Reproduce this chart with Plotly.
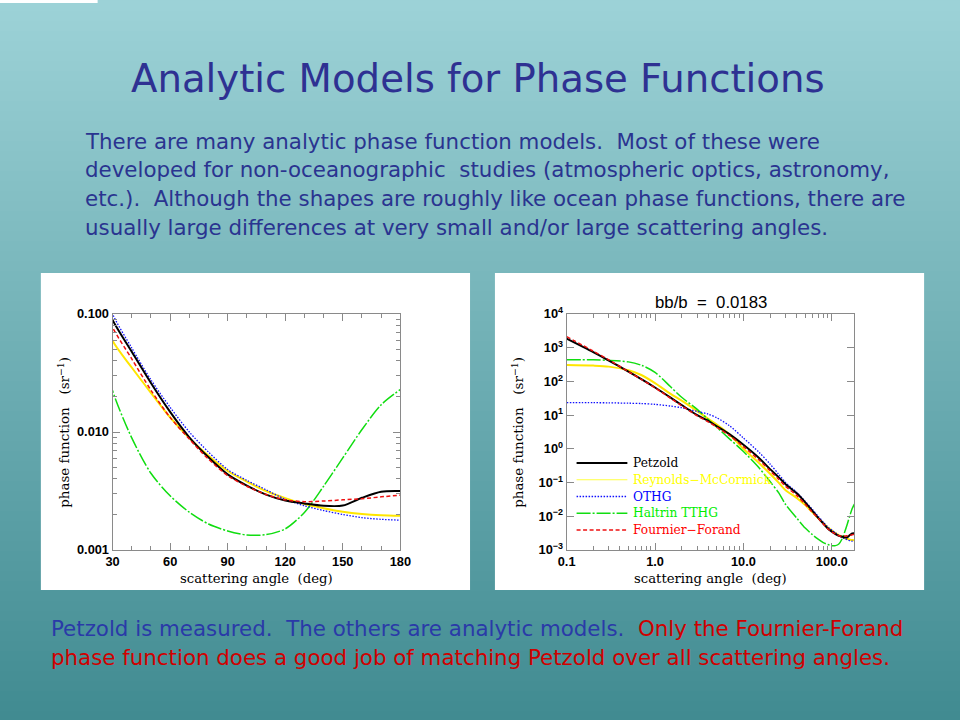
import math
import plotly.graph_objects as go

# ---------------- data ----------------
ANGLES = [0.1, 0.2, 0.3, 0.5, 0.7, 1.0, 1.5, 2.0, 3.0, 4.0, 5.0, 7.0, 10, 15, 20, 25,
          30, 40, 50, 60, 70, 80, 90, 100, 110, 120, 130, 140, 150, 160, 170, 180]

PETZOLD = [1862, 741, 417, 195, 117, 66.1, 33.1, 20.0, 10.0, 6.76, 4.68, 2.69, 1.32,
           0.537, 0.251, 0.145, 0.0891, 0.0479, 0.0260, 0.0148, 0.00902, 0.00610,
           0.00437, 0.00351, 0.00295, 0.00263, 0.00248, 0.00237, 0.00238, 0.00277,
           0.00312, 0.00316]

REYNOLDS_MCCORMICK = [309, 295, 275, 214, 155, 89.1, 42.7, 26.9, 13.2, 7.76, 5.25, 2.63,
                      1.0, 0.380, 0.182, 0.100, 0.0594, 0.0352, 0.0215, 0.0133, 0.00887,
                      0.00628, 0.00467, 0.00380, 0.00316, 0.00275, 0.00245, 0.00226,
                      0.00211, 0.00202, 0.00197, 0.00195]

OTHG = [23.4, 23.4, 23.2, 22.6, 22.1, 20.9, 18.6, 16.6, 12.9, 10.7, 8.32, 4.79, 2.09,
        0.794, 0.355, 0.178, 0.100, 0.0515, 0.0277, 0.0162, 0.0100, 0.00676, 0.00481,
        0.00389, 0.00324, 0.00269, 0.00237, 0.00216, 0.00200, 0.00188, 0.00182, 0.00179]

HALTRIN_TTHG = [442, 437, 422, 380, 302, 186, 69.2, 33.9, 14.8, 7.41, 4.37, 1.95, 0.832,
                0.275, 0.107, 0.0501, 0.0224, 0.00891, 0.00447, 0.00288, 0.00209,
                0.00166, 0.00145, 0.00134, 0.00135, 0.00151, 0.00208, 0.00347, 0.00603,
                0.0105, 0.0170, 0.0229]

FOURNIER_FORAND = [2138, 794, 437, 195, 115, 64.6, 31.6, 19.1, 9.55, 6.31, 4.37, 2.45,
                   1.17, 0.468, 0.224, 0.126, 0.0771, 0.0417, 0.0226, 0.0133, 0.00871,
                   0.00589, 0.00427, 0.00347, 0.00295, 0.00266, 0.00257, 0.00260,
                   0.00266, 0.00272, 0.00282, 0.00292]

LEGEND_ORDER = ["Petzold", "Reynolds\u2212McCormick", "OTHG", "Haltrin TTHG",
                "Fournier\u2212Forand"]

LEFT_XTICKS = [30, 60, 90, 120, 150, 180]
LEFT_YTICKS = [0.001, 0.01, 0.1]
LEFT_YTICKTEXT = ["0.001", "0.010", "0.100"]
RIGHT_XTICKS = [0.1, 1, 10, 100]
RIGHT_XTICKTEXT = ["0.1", "1.0", "10.0", "100.0"]
RIGHT_YEXP = [-3, -2, -1, 0, 1, 2, 3, 4]

TITLE = "Analytic Models for Phase Functions"
PARAGRAPH = [
    "There are many analytic phase function models.\u00a0 Most of these were",
    "developed for non-oceanographic\u00a0 studies (atmospheric optics, astronomy,",
    "etc.).\u00a0 Although the shapes are roughly like ocean phase functions, there are",
    "usually large differences at very small and/or large scattering angles.",
]
BOTTOM_BLUE = "Petzold is measured.\u00a0 The others are analytic models.\u00a0 "
BOTTOM_RED_1 = "Only the Fournier-Forand"
BOTTOM_RED_2 = "phase function does a good job of matching Petzold over all scattering angles."
CHART_TITLE = "bb/b\u00a0 =\u00a0 0.0183"

# ---------------- styles / page geometry ----------------
W, H = 960, 720
# the viewer places the figure's paper inside an 8 px frame; positions below are
# given in final-picture pixels and converted to paper fractions
FRAME = 8
SX = (W - 2 * FRAME)
SY = (H - 2 * FRAME)
FS = 1.017  # font compensation for the frame scaling

STYLE = {
    "Petzold": dict(color="#000000", width=2.0, dash="solid"),
    "Reynolds\u2212McCormick": dict(color="#ffe600", width=2.0, dash="solid"),
    "OTHG": dict(color="#1010ff", width=1.3, dash="1.5px,1.5px"),
    "Haltrin TTHG": dict(color="#10dd10", width=1.5, dash="14px,2px,2px,2px"),
    "Fournier\u2212Forand": dict(color="#ee1010", width=1.5, dash="4px,2.5px"),
}
LEGEND_TEXT_COLOR = {
    "Petzold": "#000000",
    "Reynolds\u2212McCormick": "#ffff00",
    "OTHG": "#0000ff",
    "Haltrin TTHG": "#00ee00",
    "Fournier\u2212Forand": "#ff0000",
}
SERIES = {
    "Petzold": PETZOLD,
    "Reynolds\u2212McCormick": REYNOLDS_MCCORMICK,
    "OTHG": OTHG,
    "Haltrin TTHG": HALTRIN_TTHG,
    "Fournier\u2212Forand": FOURNIER_FORAND,
}
DRAW_ORDER = ["Reynolds\u2212McCormick", "Haltrin TTHG", "OTHG", "Petzold",
              "Fournier\u2212Forand"]


def px_x(x):
    return (x - FRAME) / SX


def px_y(y):
    return 1 - (y - FRAME) / SY


def fs(v):
    return round(v * FS, 2)


fig = go.Figure()
for xa, ya in (("x", "y"), ("x2", "y2")):
    for name in DRAW_ORDER:
        s = STYLE[name]
        fig.add_trace(go.Scatter(
            x=ANGLES, y=SERIES[name], xaxis=xa, yaxis=ya, mode="lines",
            line=dict(color=s["color"], width=s["width"], dash=s["dash"],
                      shape="spline", smoothing=0.8),
            showlegend=False, hoverinfo="skip", name=name))

# ---------------- shapes ----------------
shapes = []
top_c = (157, 210, 215)
bot_c = (64, 139, 145)
nb = 72
for i in range(nb):
    t = (i + 0.5) / nb
    c = tuple(round(top_c[k] + (bot_c[k] - top_c[k]) * t) for k in range(3))
    y_top = px_y(i * H / nb) if i > 0 else 1.05
    y_bot = px_y((i + 1) * H / nb) - 0.001 if i < nb - 1 else -0.05
    shapes.append(dict(type="rect", xref="paper", yref="paper", x0=-0.05, x1=1.05,
                       y0=y_bot, y1=y_top,
                       fillcolor="rgb(%d,%d,%d)" % c, line=dict(width=0), layer="below"))
shapes.append(dict(type="rect", xref="paper", yref="paper", x0=-0.05, x1=px_x(97),
                   y0=px_y(2), y1=1.05, fillcolor="white", line=dict(width=0), layer="below"))
for x0 in (40, 496):
    shapes.append(dict(type="rect", xref="paper", yref="paper", x0=px_x(x0),
                       x1=px_x(x0 + 431), y0=px_y(589), y1=px_y(272),
                       fillcolor="white", line=dict(width=0), layer="below"))

# legend samples
annotations = []
for i, name in enumerate(LEGEND_ORDER):
    yy = 462 + 16.75 * i
    s = STYLE[name]
    lw = s["width"] if name != "Reynolds\u2212McCormick" else 1.2
    col = s["color"] if name != "Reynolds\u2212McCormick" else "#ffff40"
    shapes.append(dict(type="line", xref="paper", yref="paper", x0=px_x(578),
                       x1=px_x(629), y0=px_y(yy), y1=px_y(yy),
                       line=dict(color=col, width=lw, dash=s["dash"]), layer="above"))
    annotations.append(dict(xref="paper", yref="paper", x=px_x(633), y=px_y(yy),
                            xanchor="left", yanchor="middle", showarrow=False,
                            text=name,
                            font=dict(family="DejaVu Serif", size=fs(12),
                                      color=LEGEND_TEXT_COLOR[name])))

# ---------------- text ----------------
annotations.append(dict(xref="paper", yref="paper", x=px_x(479), y=px_y(78),
                        xanchor="center", yanchor="middle", showarrow=False, text=TITLE,
                        font=dict(family="DejaVu Sans", size=fs(38), color="#2e3192")))
for i, line in enumerate(PARAGRAPH):
    annotations.append(dict(xref="paper", yref="paper", x=px_x(82), y=px_y(140 + 28.7 * i),
                            xanchor="left", yanchor="middle", showarrow=False, text=line,
                            font=dict(family="DejaVu Sans", size=fs(21), color="#2a3490")))
annotations.append(dict(xref="paper", yref="paper", x=px_x(48), y=px_y(627),
                        xanchor="left", yanchor="middle", showarrow=False,
                        text=BOTTOM_BLUE + '<span style="color:#d00000">' + BOTTOM_RED_1 + "</span>",
                        font=dict(family="DejaVu Sans", size=fs(21), color="#2a3aa8")))
annotations.append(dict(xref="paper", yref="paper", x=px_x(48), y=px_y(656),
                        xanchor="left", yanchor="middle", showarrow=False, text=BOTTOM_RED_2,
                        font=dict(family="DejaVu Sans", size=fs(21), color="#d00000")))

xtitle_font = dict(family="DejaVu Serif", size=fs(13), color="black")
ytitle_font = dict(family="DejaVu Serif", size=fs(13.2), color="black")
for cx, ytx in ((256.5, 63), (712.5, 519)):
    annotations.append(dict(xref="paper", yref="paper", x=px_x(cx), y=px_y(577),
                            xanchor="center", yanchor="middle", showarrow=False,
                            text="scattering angle\u00a0 (deg)", font=xtitle_font))
    annotations.append(dict(xref="paper", yref="paper", x=px_x(ytx), y=px_y(431),
                            xanchor="center", yanchor="middle", showarrow=False,
                            textangle=-90,
                            text="phase function\u00a0\u00a0 (sr<sup>\u22121</sup>)",
                            font=ytitle_font))
annotations.append(dict(xref="paper", yref="paper", x=px_x(712.5), y=px_y(301),
                        xanchor="center", yanchor="middle", showarrow=False,
                        text=CHART_TITLE,
                        font=dict(family="Liberation Sans", size=fs(16.5), color="black")))

# ---------------- axes ----------------
tickfont = dict(family="Liberation Sans", size=fs(12.6), color="black", weight="bold")
common = dict(showgrid=False, zeroline=False, showline=True, linecolor="#8a8a8a",
              linewidth=1, mirror="ticks", ticks="inside", ticklen=7, tickcolor="#8a8a8a",
              tickwidth=1, tickfont=tickfont)
dom_y = [px_y(549), px_y(313)]

left_minor_x = [v for v in range(40, 180, 10) if v % 30 != 0]
left_minor_y = [k * 10 ** e for e in (-3, -2) for k in range(2, 10)]
right_minor_x = [k * 10 ** e for e in (-1, 0, 1) for k in range(2, 10)]

layout = dict(
    width=W, height=H, margin=dict(l=0, r=0, t=0, b=0), autosize=False,
    paper_bgcolor="rgb(110,175,180)", plot_bgcolor="white",
    showlegend=False, shapes=shapes, annotations=annotations,
    xaxis=dict(common, domain=[px_x(112), px_x(401)], range=[30, 180], anchor="y",
               tickmode="array", tickvals=LEFT_XTICKS,
               minor=dict(tickmode="array", tickvals=left_minor_x, ticks="inside",
                          ticklen=4, tickcolor="#8a8a8a", showgrid=False)),
    yaxis=dict(common, domain=dom_y, type="log", range=[-3, -1], anchor="x",
               tickmode="array", tickvals=LEFT_YTICKS, ticktext=LEFT_YTICKTEXT,
               minor=dict(tickmode="array", tickvals=left_minor_y, ticks="inside",
                          ticklen=4, tickcolor="#8a8a8a", showgrid=False)),
    xaxis2=dict(common, domain=[px_x(568), px_x(857)], type="log",
                range=[-1, math.log10(180)], anchor="y2",
                tickmode="array", tickvals=RIGHT_XTICKS, ticktext=RIGHT_XTICKTEXT,
                minor=dict(tickmode="array", tickvals=right_minor_x, ticks="inside",
                           ticklen=4, tickcolor="#8a8a8a", showgrid=False)),
    yaxis2=dict(common, domain=dom_y, type="log", range=[-3, 4], anchor="x2",
                tickmode="array", tickvals=[10.0 ** e for e in RIGHT_YEXP],
                ticktext=["10<sup>%s</sup>" % (str(e).replace("-", "\u2212")) for e in RIGHT_YEXP]),
)
fig.update_layout(layout)

PAGE_FIX = (
    "(function(){var de=document.documentElement,b=document.body;"
    "var g='linear-gradient(rgb(157,210,215),rgb(64,139,145))';"
    "de.style.margin='0';de.style.padding='0';de.style.overflow='hidden';"
    "de.style.background=g;b.style.background=g;"
    "b.style.margin='0';b.style.padding='0';b.style.overflow='hidden';"
    "})();"
)
fig.write_html(
    "out.html",
    config={"responsive": False, "displayModeBar": False},
    post_script=PAGE_FIX,
)
